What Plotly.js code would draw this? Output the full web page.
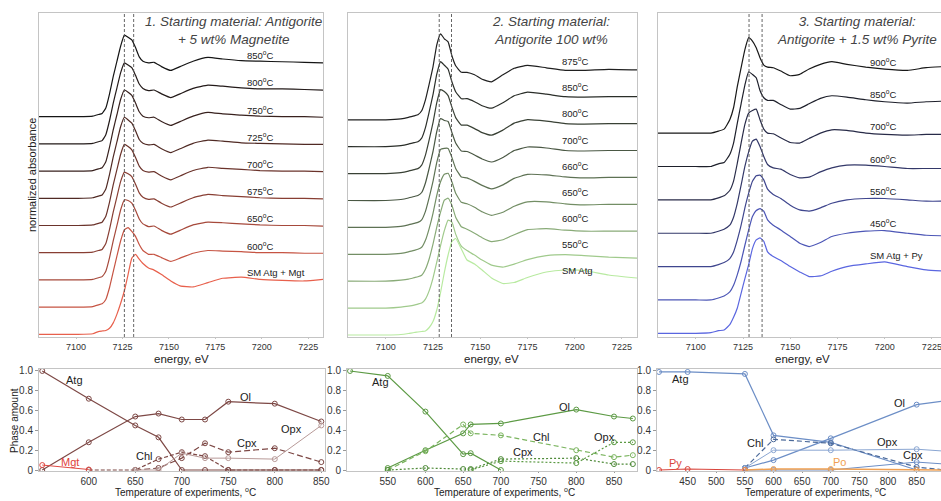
<!DOCTYPE html>
<html><head><meta charset="utf-8">
<script src="https://cdn.plot.ly/plotly-3.0.1.min.js"></script>
<style>html,body{margin:0;padding:0;overflow:hidden;background:#fff}#chart{width:960px;height:501px}</style>
</head><body><div id="chart"></div>
<script>
// ---------- XANES spectra (normalized absorbance) ----------
const energy1 = [7080,7101,7109,7112,7114,7116,7118,7120,7122,7124,7126,7128,7130,7132,7134,7136,7139,7142,7146,7151,7156,7163,7171,7179,7189,7199,7211,7223,7233];
const mgt850 = [0,0,0.01,0.04,0.06,0.16,0.42,0.74,1.02,1.30,1.50,1.46,1.41,1.27,1.10,1.02,0.99,1.00,0.92,0.85,0.92,1.02,1.09,1.06,1.03,1.02,1.01,1.00,0.99];
const mgt800 = [0,0,0.01,0.04,0.06,0.17,0.43,0.75,1.03,1.31,1.49,1.45,1.40,1.26,1.10,1.02,0.98,0.99,0.92,0.85,0.92,1.02,1.08,1.06,1.03,1.01,1.01,1.00,0.99];
const mgt750 = [0,0,0.01,0.04,0.06,0.17,0.44,0.76,1.04,1.32,1.49,1.45,1.39,1.25,1.09,1.01,0.98,0.99,0.91,0.84,0.91,1.01,1.08,1.05,1.03,1.01,1.00,1.00,0.99];
const mgt725 = [0,0,0.01,0.04,0.06,0.17,0.44,0.76,1.04,1.32,1.49,1.44,1.38,1.24,1.08,1.01,0.98,0.99,0.91,0.84,0.91,1.01,1.07,1.05,1.02,1.01,1.00,0.99,0.99];
const mgt700 = [0,0,0.01,0.04,0.06,0.17,0.43,0.75,1.03,1.31,1.49,1.45,1.39,1.25,1.09,1.01,0.98,0.99,0.91,0.84,0.91,1.01,1.07,1.05,1.03,1.01,1.00,1.00,0.99];
const mgt675 = [0,0,0.01,0.04,0.06,0.17,0.43,0.75,1.03,1.31,1.48,1.45,1.40,1.26,1.10,1.02,0.98,0.99,0.91,0.84,0.91,1.01,1.07,1.05,1.03,1.01,1.00,1.00,0.99];
const mgt650 = [0,0,0.01,0.04,0.06,0.16,0.41,0.72,1.00,1.29,1.47,1.46,1.41,1.28,1.12,1.03,0.98,0.99,0.91,0.84,0.91,1.01,1.06,1.05,1.03,1.01,1.00,1.00,0.99];
const mgt600 = [0,0,0.01,0.04,0.06,0.14,0.36,0.65,0.94,1.22,1.42,1.46,1.39,1.30,1.15,1.04,0.97,0.97,0.91,0.84,0.90,0.99,1.04,1.03,1.02,1.00,1.00,0.99,0.99];
const mgtSM  = [0,0,0.01,0.05,0.06,0.07,0.11,0.21,0.37,0.57,0.80,1.10,1.40,1.47,1.38,1.30,1.22,1.18,1.10,0.98,0.89,0.87,0.95,1.03,1.05,1.01,0.99,0.98,1.01];
const labels1 = ['850','800','750','725','700','675','650','600','SM Atg + Mgt'];

const energy2 = [7080,7100,7108,7112,7115,7117,7119,7121,7123,7125,7127,7129,7131,7133,7135,7137,7140,7143,7147,7151,7156,7162,7168,7175,7185,7195,7205,7218,7233];
const atg875 = [0,0,0.02,0.05,0.08,0.10,0.18,0.40,0.72,1.06,1.50,1.72,1.62,1.56,1.28,1.08,0.95,0.95,0.90,0.81,0.76,0.90,1.03,1.09,1.04,0.99,0.99,1.01,1.00];
const atg850 = [0,0,0.02,0.05,0.08,0.10,0.17,0.38,0.70,1.04,1.45,1.70,1.63,1.55,1.30,1.10,0.96,0.96,0.90,0.82,0.77,0.88,1.02,1.09,1.05,1.00,0.99,1.00,1.00];
const atg800 = [0,0,0.02,0.05,0.08,0.10,0.17,0.37,0.68,1.02,1.42,1.68,1.64,1.56,1.33,1.12,0.97,0.97,0.90,0.82,0.77,0.87,1.01,1.08,1.05,1.00,0.99,1.00,1.00];
const atg700 = [0,0,0.02,0.05,0.08,0.10,0.16,0.35,0.65,0.98,1.38,1.64,1.60,1.58,1.36,1.15,0.99,0.98,0.91,0.83,0.77,0.86,1.00,1.07,1.05,1.00,0.99,1.00,1.00];
const atg660 = [0,0,0.02,0.05,0.08,0.10,0.15,0.32,0.60,0.92,1.30,1.56,1.58,1.58,1.40,1.18,1.01,0.99,0.92,0.84,0.77,0.85,0.98,1.06,1.05,1.01,0.99,1.00,1.00];
const atg650 = [0,0,0.02,0.05,0.08,0.10,0.14,0.28,0.52,0.82,1.18,1.45,1.60,1.62,1.45,1.22,1.04,1.01,0.94,0.85,0.78,0.84,0.96,1.05,1.05,1.01,0.99,1.00,1.00];
const atg600 = [0,0,0.02,0.04,0.07,0.09,0.12,0.24,0.45,0.74,1.08,1.38,1.62,1.66,1.52,1.28,1.09,1.04,0.96,0.87,0.79,0.83,0.93,1.03,1.05,1.02,1.00,1.00,1.00];
const atg550 = [0,0,0.02,0.04,0.06,0.08,0.10,0.18,0.35,0.60,0.92,1.25,1.55,1.76,1.72,1.48,1.24,1.15,1.06,0.96,0.86,0.82,0.88,0.97,1.05,1.07,1.05,1.02,1.00];
const atgSM  = [0,0,0.01,0.03,0.05,0.06,0.07,0.08,0.15,0.27,0.50,0.85,1.25,1.60,1.87,1.93,1.72,1.50,1.42,1.30,1.14,1.03,1.05,1.15,1.26,1.30,1.29,1.20,1.14];
const labels2 = ['875','850','800','700','660','650','600','550','SM Atg'];

const energy3 = [7080,7100,7108,7112,7115,7118,7120,7122,7124,7126,7128,7130,7132,7134,7136,7138,7141,7145,7150,7155,7160,7166,7172,7180,7190,7200,7212,7222,7233];
const py900 = [0,0,0,0.03,0.06,0.20,0.38,0.70,0.98,1.25,1.43,1.38,1.28,1.13,1.02,0.99,0.98,0.93,0.86,0.88,0.96,1.03,1.07,1.03,0.99,0.96,0.94,0.98,1.00];
const py850 = [0,0,0,0.04,0.06,0.18,0.35,0.65,0.94,1.22,1.42,1.38,1.33,1.14,1.03,0.99,0.99,0.93,0.86,0.87,0.94,1.02,1.06,1.04,1.00,0.97,0.95,0.97,0.98];
const py700 = [0,0,0,0.03,0.06,0.14,0.28,0.55,0.85,1.13,1.30,1.34,1.36,1.20,1.06,1.00,0.99,0.93,0.86,0.85,0.92,1.00,1.05,1.04,1.00,0.98,0.97,0.98,0.98];
const py600 = [0,0,0,0.03,0.06,0.12,0.24,0.45,0.72,1.00,1.22,1.38,1.41,1.30,1.15,1.03,0.98,0.96,0.88,0.83,0.84,0.92,0.98,1.02,1.02,1.00,0.97,0.97,0.97];
const py550 = [0,0,0,0.03,0.06,0.12,0.22,0.40,0.62,0.88,1.10,1.28,1.36,1.37,1.30,1.16,1.08,1.02,0.92,0.85,0.83,0.88,0.95,1.00,1.02,1.02,1.00,0.98,0.98];
const py450 = [0,0,0,0.03,0.06,0.12,0.22,0.38,0.58,0.82,1.05,1.25,1.34,1.37,1.33,1.20,1.12,1.05,0.95,0.85,0.80,0.86,0.95,1.00,1.03,1.04,1.00,0.97,0.96];
const pySM  = [0,0,0.01,0.04,0.05,0.13,0.24,0.38,0.60,0.82,1.03,1.27,1.40,1.43,1.38,1.22,1.15,1.09,1.00,0.92,0.85,0.86,0.93,1.00,1.04,1.07,1.00,0.95,0.93];
const labels3 = ['900','850','700','600','550','450','SM Atg + Py'];

// edge reference energies (dashed lines)
const edgeLines1 = [7126, 7131];
const edgeLines2 = [7128.3, 7134.8];
const edgeLines3 = [7128.2, 7135.1];

// ---------- Phase amounts ----------
const temps4 = [550,600,650,675,700,725,750,800,850];
const atg4 = [1.0,0.72,0.45,0.33,0,0,0,0,0];
const ol4  = [0,0.28,0.54,0.57,0.51,0.51,0.69,0.67,0.49];
const chl4 = [null,0,0,0.11,0.18,0.14,0,0,0];
const cpx4 = [null,null,0,0.02,0.12,0.27,0.18,0.22,0.08];
const opx4 = [null,null,0,0,0.17,0.12,0.12,0.11,0.45];
const mgt4 = [0.05,0.005,null,null,null,null,null,null,null];

const temps5 = [500,550,600,650,660,700,800,850,875];
const atg5 = [1.0,0.95,0.59,0.16,0.17,0,null,null,null];
const ol5  = [null,0.02,0.20,0.37,0.46,0.47,0.61,0.54,0.52];
const chl5 = [null,0,0.19,0.46,0.37,0.35,0.20,0.13,0.15];
const cpx5 = [null,0,0.02,0.01,0.01,0.11,0.12,0.06,0.06];
const opx5 = [null,null,null,null,0,0.09,0.07,0.28,0.28];

const temps6 = [400,450,550,600,700,850,900];
const atg6 = [0.99,0.99,0.97,0.35,0.28,0.0,null];
const ol6  = [null,null,0.02,0.10,0.32,0.66,0.70];
const chl6 = [null,null,0.02,0.31,0.27,0.03,0.0];
const opx6 = [null,null,0.02,0.20,0.20,0.21,0.19];
const cpx6 = [null,null,0,0,0,0.08,0.06];
const py6  = [0,0.01,0,null,null,null,null];
const po6  = [null,null,0,0.01,0.01,0.0,0.0];

// ---------- build ----------
const W = 960, H = 501;
const FONT = 'Liberation Sans, Arial, Helvetica, sans-serif';
const dx = (a,b)=>[a/W,b/W];
const dy = (top,bot)=>[1-bot/H,1-top/H];

function mix(c1,c2,t){
  const p=s=>[1,3,5].map(i=>parseInt(s.substr(i,2),16));
  const a=p(c1),b=p(c2);
  return 'rgb('+a.map((v,i)=>Math.round(v+(b[i]-v)*t)).join(',')+')';
}

const traces = [];
const annotations = [];
const shapes = [];

function spectraPanel(ax, energy, series, labels, dark, light, offset, labBase, labStep, labX, edges){
  const n = series.length;
  series.forEach((s,k)=>{
    const i = n-1-k; // index from bottom
    traces.push({x:energy, y:s.map(v=>v+offset*i), xaxis:'x'+ax, yaxis:'y'+ax, mode:'lines',
      line:{color:mix(dark,light,Math.pow(k/(n-1),1.3)), width:1.2, shape:'spline', smoothing:0.4}, hoverinfo:'skip'});
    const lab = labels[k];
    const txt = lab.startsWith('SM') ? lab : lab+'<sup>o</sup>C';
    annotations.push({xref:'x'+ax, yref:'y'+ax, x:labX, y:labBase+labStep*i, text:txt, showarrow:false,
      xanchor:'left', yanchor:'middle', font:{size:9.5, color:'#222', family:FONT}});
  });
  edges.forEach(e=>shapes.push({type:'line', xref:'x'+ax, yref:'y'+ax+' domain', x0:e, x1:e, y0:0, y1:1,
    line:{color:'#555', width:0.9, dash:'3px,2px'}}));
}

spectraPanel('', energy1, [mgt850,mgt800,mgt750,mgt725,mgt700,mgt675,mgt650,mgt600,mgtSM], labels1,
  '#151515', '#e8604c', 0.5, 1.13, 0.5, 7191, edgeLines1);
spectraPanel('2', energy2, [atg875,atg850,atg800,atg700,atg660,atg650,atg600,atg550,atgSM], labels2,
  '#202020', '#b8eaa0', 0.538, 1.3, 0.522, 7192, edgeLines2);
spectraPanel('3', energy3, [py900,py850,py700,py600,py550,py450,pySM], labels3,
  '#181818', '#5a66e0', 0.5, 1.17, 0.483, 7191, edgeLines3);

function phase(ax, T, y, color, dash, width){
  traces.push({x:T, y:y, xaxis:'x'+ax, yaxis:'y'+ax, mode:'lines+markers', connectgaps:false,
    line:{color:color, width:width||1.2, dash:dash||'solid'},
    marker:{symbol:'circle-open', size:5, color:color, line:{width:1, color:color}}, hoverinfo:'skip'});
}
const c4='#7d4845', c5='#5c9a44', c6='#6c8ec6';
phase('4', temps4, atg4, c4); phase('4', temps4, ol4, c4);
phase('4', temps4, chl4, c4, '4px,2px'); phase('4', temps4, cpx4, c4, '6px,3px');
phase('4', temps4, opx4, '#b89a98', 'solid', 1); phase('4', temps4, mgt4, '#e04a44', 'solid', 1);
phase('5', temps5, atg5, c5); phase('5', temps5, ol5, c5);
phase('5', temps5, chl5, '#7ab45e', '5px,3px'); phase('5', temps5, cpx5, '#4e8a38', '2px,2px');
phase('5', temps5, opx5, c5, '2px,2px');
phase('6', temps6, atg6, c6); phase('6', temps6, ol6, c6);
phase('6', temps6, chl6, '#4c6a9a', '5px,3px'); phase('6', temps6, opx6, '#8aa6d2', 'solid', 1);
phase('6', temps6, cpx6, c6, 'solid', 1);
phase('6', temps6, py6, '#d9453c', 'solid', 1.2); phase('6', temps6, po6, '#f0a052', 'solid', 1.5);

function lab(ax, x, y, t, col){
  annotations.push({xref:'x'+ax, yref:'y'+ax, x:x, y:y, text:t, showarrow:false,
    font:{size:11, color:col||'#222', family:FONT}});
}
lab('4',585,0.91,'Atg'); lab('4',768,0.74,'Ol'); lab('4',660,0.14,'Chl'); lab('4',770,0.27,'Cpx');
lab('4',818,0.41,'Opx'); lab('4',580,0.085,'Mgt','#e0403a');
lab('5',540,0.89,'Atg'); lab('5',784,0.64,'Ol'); lab('5',754,0.33,'Chl'); lab('5',730,0.18,'Cpx'); lab('5',838,0.33,'Opx');
lab('6',438,0.92,'Atg'); lab('6',820,0.68,'Ol'); lab('6',569,0.27,'Chl'); lab('6',799,0.28,'Opx'); lab('6',843,0.15,'Cpx');
lab('6',428,0.07,'Py','#d9453c'); lab('6',715,0.08,'Po','#f0a052');

// panel titles
function ptitle(x, y, t){
  annotations.push({xref:'paper', yref:'paper', x:x/W, y:1-y/H, text:t, showarrow:false, align:'center',
    xanchor:'center', yanchor:'middle', font:{size:13.5, color:'#444', family:FONT}});
}
ptitle(233, 31, '<i>1. Starting material: Antigorite<br>+ 5 wt% Magnetite</i>');
ptitle(551, 31, '<i>2. Starting material:<br>Antigorite 100 wt%</i>');
ptitle(857, 31, '<i>3. Starting material:<br>Antigorite + 1.5 wt% Pyrite</i>');

function ptext(x, y, t, size, rot){
  annotations.push({xref:'paper', yref:'paper', x:x/W, y:1-y/H, text:t, showarrow:false, textangle:rot||0,
    xanchor:'center', yanchor:'middle', font:{size:size, color:'#222', family:FONT}});
}
ptext(181, 359, 'energy, eV', 11.5); ptext(492, 359, 'energy, eV', 11.5); ptext(802, 359, 'energy, eV', 11.5);
ptext(32, 175, 'normalized absorbance', 11, -90);
ptext(14, 421, 'Phase amount', 10, -90);
ptext(185, 492, 'Temperature of experiments, <sup>o</sup>C', 10);
ptext(504, 492, 'Temperature of experiments, <sup>o</sup>C', 10);
ptext(815, 492, 'Temperature of experiments, <sup>o</sup>C', 10);

const frame = {showline:true, mirror:true, linecolor:'#c4c4c4', linewidth:1, showgrid:false, zeroline:false};
const topX = Object.assign({}, frame, {range:[7080,7233], tickvals:[7100,7125,7150,7175,7200,7225], ticks:'outside',
  ticklen:1, tickcolor:'#c4c4c4', tickfont:{size:9, color:'#333', family:FONT}});
const topY = Object.assign({}, frame, {showticklabels:false, ticks:''});
const botY = Object.assign({}, frame, {range:[-0.01,1.02], tickvals:[0,0.2,0.4,0.6,0.8,1.0], ticktext:['0','0.2','0.4','0.6','0.8','1.0'],
  ticks:'outside', ticklen:3, tickcolor:'#999', tickfont:{size:10, color:'#333', family:FONT}});
const botX = Object.assign({}, frame, {ticks:'outside', ticklen:1, tickcolor:'#999', tickfont:{size:10, color:'#333', family:FONT}});

const yTop = dy(13,337), yBot = dy(369,471);
const layout = {
  width:W, height:H, margin:{l:0,r:0,t:0,b:0}, showlegend:false,
  paper_bgcolor:'#fff', plot_bgcolor:'#fff', font:{family:FONT},
  xaxis: Object.assign({}, topX, {domain:dx(39,323), anchor:'y'}),
  yaxis: Object.assign({}, topY, {domain:yTop, anchor:'x', range:[-0.05,5.906]}),
  xaxis2: Object.assign({}, topX, {domain:dx(348,637), anchor:'y2'}),
  yaxis2: Object.assign({}, topY, {domain:yTop, anchor:'x2', range:[-0.04,6.44]}),
  xaxis3: Object.assign({}, topX, {domain:dx(658,947), anchor:'y3'}),
  yaxis3: Object.assign({}, topY, {domain:yTop, anchor:'x3', range:[-0.055,4.8]}),
  xaxis4: Object.assign({}, botX, {domain:dx(39,325), anchor:'y4', range:[546.5,854], tickvals:[600,650,700,750,800,850]}),
  yaxis4: Object.assign({}, botY, {domain:yBot, anchor:'x4'}),
  xaxis5: Object.assign({}, botX, {domain:dx(347,637), anchor:'y5', range:[496,880.5], tickvals:[550,600,650,700,750,800,850]}),
  yaxis5: Object.assign({}, botY, {domain:yBot, anchor:'x5'}),
  xaxis6: Object.assign({}, botX, {domain:dx(657,947), anchor:'y6', range:[396.5,903], tickvals:[450,500,550,600,650,700,750,800,850]}),
  yaxis6: Object.assign({}, botY, {domain:yBot, anchor:'x6'}),
  annotations: annotations, shapes: shapes
};
Plotly.newPlot('chart', traces, layout, {staticPlot:true, displayModeBar:false});
</script></body></html>
